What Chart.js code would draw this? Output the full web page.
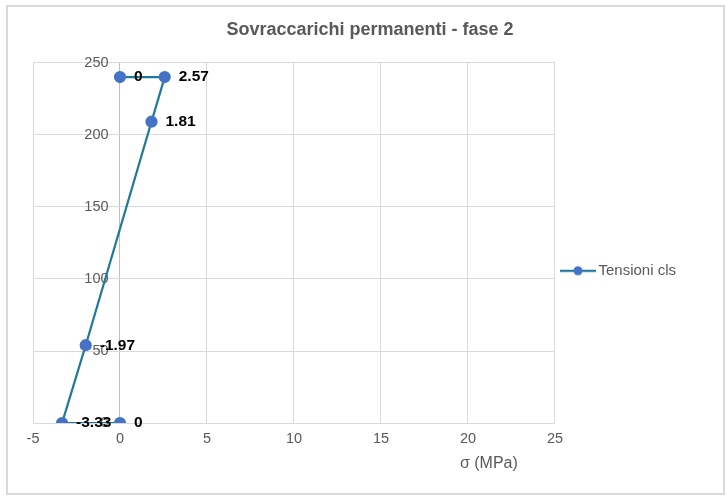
<!DOCTYPE html>
<html>
<head>
<meta charset="utf-8">
<script src="https://cdn.jsdelivr.net/npm/chart.js@4/dist/chart.umd.min.js"></script>
<style>
  html, body { margin: 0; padding: 0; background: #fff; }
  #wrap {
    position: absolute; left: 6px; top: 5px;
    width: 715px; height: 486px;
    border: 2px solid #d9d9d9;
  }
</style>
</head>
<body>
<div id="wrap"><canvas id="chart"></canvas></div>
<script>
// data
const sigma = [0, -3.33, -1.97, 1.81, 2.57, 0];
const quota = [0, 0, 54, 209, 240, 240];
const pointLabels = ['0', '-3.33', '-1.97', '1.81', '2.57', '0'];
const xTicks = [-5, 0, 5, 10, 15, 20, 25];
const yTicks = [0, 50, 100, 150, 200, 250];

const lineColor = '#1f7a99';
const dotColor = '#4472c4';
const textGray = '#595959';
const FONT = '"Liberation Sans", Arial, sans-serif';

Chart.defaults.font.family = FONT;

// little line + dot for the legend
const legendIcon = document.createElement('canvas');
legendIcon.width = 36;
legendIcon.height = 12;
(function () {
    const c = legendIcon.getContext('2d');
    c.strokeStyle = lineColor;
    c.lineWidth = 2.25;
    c.beginPath();
    c.moveTo(0, 6);
    c.lineTo(36, 6);
    c.stroke();
    c.fillStyle = dotColor;
    c.beginPath();
    c.arc(18, 6, 4.5, 0, Math.PI * 2);
    c.fill();
})();

// value labels to the right of each point
const valueLabels = {
    id: 'valueLabels',
    afterDatasetsDraw(chart) {
        const ctx = chart.ctx;
        const meta = chart.getDatasetMeta(0);
        ctx.save();
        ctx.font = 'bold 15.5px ' + FONT;
        ctx.fillStyle = '#000';
        ctx.textAlign = 'left';
        ctx.textBaseline = 'middle';
        meta.data.forEach((pt, i) => {
            ctx.fillText(pointLabels[i], pt.x + 14, pt.y);
        });
        ctx.restore();
    }
};

// x axis title sits off-centre, to the right
const xTitle = {
    id: 'xTitle',
    afterDraw(chart) {
        const ctx = chart.ctx;
        const xs = chart.scales.x;
        ctx.save();
        ctx.font = '16px ' + FONT;
        ctx.fillStyle = textGray;
        ctx.textAlign = 'center';
        ctx.textBaseline = 'middle';
        ctx.fillText('σ (MPa)', xs.getPixelForValue(21.2), chart.chartArea.bottom + 40);
        ctx.restore();
    }
};

// nudge title right and legend down like the original
const nudge = {
    id: 'nudge',
    afterLayout(chart) {
        chart.titleBlock.left += 21;
        chart.legend.top += 80;
    }
};

const points = sigma.map((s, i) => ({ x: s, y: quota[i] }));

new Chart(document.getElementById('chart'), {
    type: 'scatter',
    data: {
        datasets: [{
            label: 'Tensioni cls',
            data: points,
            showLine: true,
            borderColor: lineColor,
            borderWidth: 2.25,
            backgroundColor: dotColor,
            pointBackgroundColor: dotColor,
            pointBorderColor: dotColor,
            pointRadius: 5,
            pointStyle: 'circle'
        }]
    },
    options: {
        responsive: true,
        maintainAspectRatio: false,
        animation: false,
        layout: {
            padding: { left: 25, right: 37, top: 0, bottom: 38.5 }
        },
        scales: {
            x: {
                type: 'linear',
                min: -5,
                max: 25,
                afterBuildTicks: (scale) => { scale.ticks = xTicks.map(v => ({ value: v })); },
                grid: {
                    color: (c) => (c.tick && c.tick.value === 0 ? '#bfbfbf' : '#d9d9d9'),
                    drawTicks: false
                },
                border: { color: '#d9d9d9' },
                ticks: { color: textGray, font: { size: 14.5 }, padding: 7 }
            },
            y: {
                type: 'linear',
                position: { x: -0.66 },
                min: 0,
                max: 250,
                afterBuildTicks: (scale) => { scale.ticks = yTicks.map(v => ({ value: v })); },
                grid: { color: '#d9d9d9', drawTicks: false },
                border: { display: false },
                ticks: { color: textGray, font: { size: 14.5 } }
            }
        },
        plugins: {
            title: {
                display: true,
                text: 'Sovraccarichi permanenti - fase 2',
                color: textGray,
                font: { size: 18, weight: 'bold' },
                padding: { top: 12, bottom: 22 }
            },
            legend: {
                position: 'right',
                labels: {
                    usePointStyle: true,
                    pointStyleWidth: 26,
                    padding: 10,
                    color: textGray,
                    font: { size: 15 },
                    generateLabels: (chart) => [{
                        text: chart.data.datasets[0].label,
                        pointStyle: legendIcon,
                        fontColor: textGray,
                        datasetIndex: 0
                    }]
                }
            },
            tooltip: { enabled: false }
        }
    },
    plugins: [valueLabels, xTitle, nudge]
});
</script>
</body>
</html>
